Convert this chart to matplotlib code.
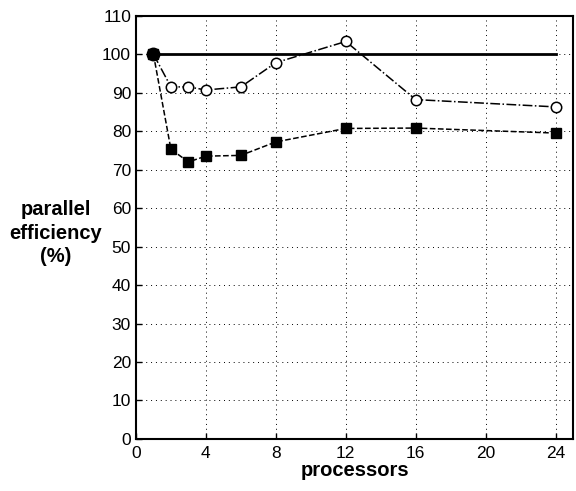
import matplotlib.pyplot as plt

plt.rcParams['font.family'] = ['Liberation Sans', 'DejaVu Sans']

# processors used
procs = [1, 2, 3, 4, 6, 8, 12, 16, 24]
# parallel efficiency (%), open circles
eff_circles = [100, 91.5, 91.5, 90.7, 91.5, 97.8, 103.3, 88.2, 86.3]
# parallel efficiency (%), filled squares
eff_squares = [100, 75.3, 72.0, 73.5, 73.7, 77.2, 80.7, 80.8, 79.5]
# ideal efficiency line
ideal_x = [1, 24]
ideal_y = [100, 100]

fig = plt.figure(figsize=(5.76, 4.91), dpi=100)
ax = fig.add_axes([0.236, 0.106, 0.759, 0.862])

ax.plot(ideal_x, ideal_y, "k-", linewidth=2)
ax.plot(procs, eff_circles, "k-.", marker="o", markerfacecolor="white",
        markeredgecolor="black", markersize=7.5, markeredgewidth=1.1,
        linewidth=1.1)
ax.plot(procs, eff_squares, "k--", marker="s", markerfacecolor="black",
        markeredgecolor="black", markersize=6.5, linewidth=1.1)
# shared starting point drawn as a filled dot
ax.plot(procs[:1], eff_circles[:1], "ko", markersize=9)

ax.set_xlim(0, 25)
ax.set_ylim(0, 110)
ax.set_xticks([0, 4, 8, 12, 16, 20, 24])
ax.set_yticks(range(0, 111, 10))
ax.grid(True, linestyle=(0, (1, 4)), color="black", linewidth=0.7)
ax.tick_params(direction="in", length=4, labelsize=12.5, width=1)
ax.tick_params(axis="x", pad=5)
for s in ax.spines.values():
    s.set_linewidth(1.5)

ax.set_xlabel("processors", fontsize=14.5, fontweight="bold", labelpad=0)
fig.text(0.097, 0.525, "parallel\nefficiency\n(%)", ha="center", va="center",
         fontsize=14.5, fontweight="bold", linespacing=1.3)

fig.savefig("out.png", dpi=100)
